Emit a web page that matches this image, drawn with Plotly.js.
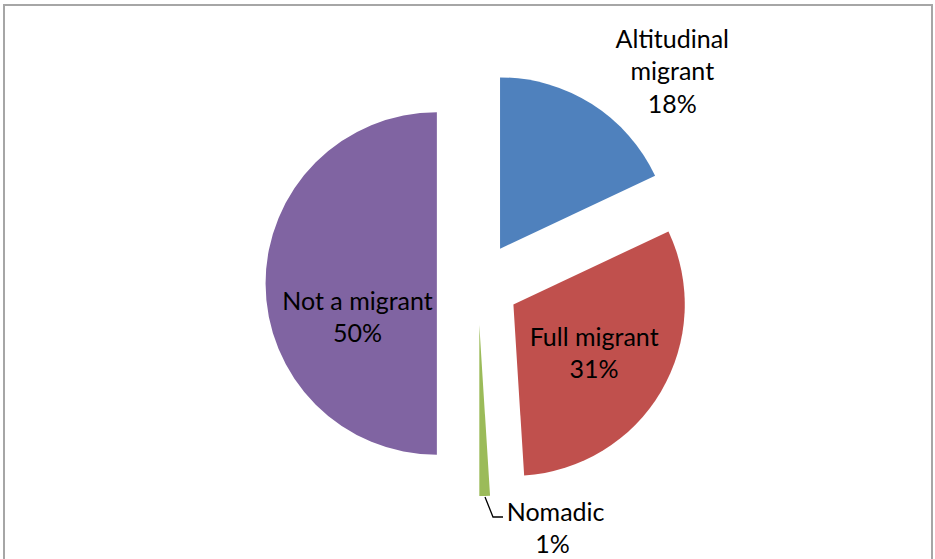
<!DOCTYPE html>
<html>
<head>
<meta charset="utf-8">
<script src="https://cdn.plot.ly/plotly-3.0.1.min.js"></script>
<style>
  html, body { margin: 0; padding: 0; background: #ffffff; }
  #wrap { position: relative; width: 935px; height: 559px; overflow: hidden; }
  #chart { position: absolute; left: 0; top: 0; width: 935px; height: 559px; }
  #frame { position: absolute; left: 3px; top: 4px; width: 930px; height: 570px;
           border: 2px solid #a6a6a6; pointer-events: none; box-sizing: border-box; }
  #leader { position: absolute; left: 0; top: 0; pointer-events: none; }
</style>
</head>
<body>
<div id="wrap">
  <div id="chart"></div>
  <svg id="leader" width="935" height="559">
    <polyline points="485,497 493,517 503,517" fill="none" stroke="#000" stroke-width="1.3"/>
  </svg>
  <div id="frame"></div>
</div>
<script>
const categories = ["Altitudinal migrant", "Full migrant", "Nomadic", "Not a migrant"];
const labelLines = ["Altitudinal<br>migrant", "Full migrant", "&nbsp;Nomadic", "&nbsp;<br>&nbsp;<br>Not a migrant"];
const values = [18, 31, 1, 50];
const percentLabels = ["18%", "31%", "1%", "50%"];
const colors = ["#4F81BD", "#C0504D", "#9BBB59", "#8064A2"];

const fontFam = "Lato, 'Open Sans', sans-serif";

const trace = {
  type: "pie",
  labels: categories,
  values: values,
  customdata: labelLines.map((l, i) => [l, percentLabels[i]]),
  texttemplate: "%{customdata[0]}<br>%{customdata[1]}",
  textposition: ["outside", "inside", "outside", "inside"],
  insidetextorientation: "horizontal",
  sort: false,
  direction: "clockwise",
  rotation: 0,
  pull: [0.24, 0.24, 0.24, 0.24],
  marker: { colors: colors, line: { width: 0 } },
  textfont: { family: fontFam, size: 25, color: "#000000" },
  insidetextfont: { family: fontFam, size: 25, color: "#000000" },
  outsidetextfont: { family: fontFam, size: 25, color: "#000000" },
  hoverinfo: "label+percent",
  showlegend: false
};

const layout = {
  width: 935,
  height: 559,
  margin: { l: 40, r: 19, t: 71, b: 63 },
  paper_bgcolor: "#ffffff",
  plot_bgcolor: "#ffffff",
  showlegend: false
};

Plotly.newPlot("chart", [trace], layout, { displayModeBar: false, staticPlot: true });
</script>
</body>
</html>
